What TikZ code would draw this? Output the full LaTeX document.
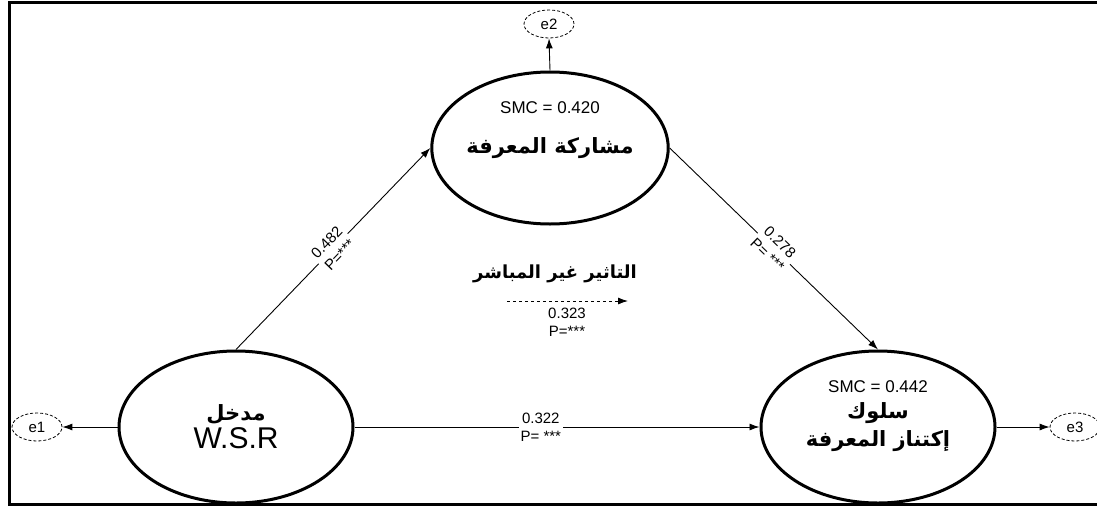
\documentclass[tikz,border=0pt]{standalone}
\usepackage{fontspec}
\setmainfont{Liberation Sans}
\newfontfamily\arabicfont[Script=Arabic]{DejaVu Sans}
\TeXXeTstate=1
\usetikzlibrary{positioning,arrows.meta,shapes.geometric}
\newcommand{\artxt}[1]{{\arabicfont\bfseries\beginR #1\endR}}

\begin{document}
\begin{tikzpicture}[
  x=1pt,y=-1pt,
  latent/.style={draw=black,ellipse,line width=3pt,minimum width=234pt,minimum height=152pt,inner sep=0pt,align=center,font=\fontsize{21}{28}\selectfont},
  errnode/.style={draw=black,ellipse,densely dashed,line width=0.8pt,minimum width=50pt,minimum height=28pt,inner sep=0pt,font=\fontsize{15}{17}\selectfont},
  smc/.style={font=\fontsize{17}{19}\selectfont},
  coef/.style={fill=white,align=center,inner sep=2pt,font=\fontsize{15}{18}\selectfont},
  arrow/.style={-{Latex[length=10pt,width=7pt]},line width=0.9pt}
]
\useasboundingbox (0,0) rectangle (1097,506);
\draw[line width=3.5pt] (1110,2.5) -- (9.5,2.5) -- (9.5,504.5) -- (1110,504.5);
\node[latent] (share) at (550,148) {\artxt{مشاركة المعرفة}};
\node[latent] (wsr) at (236,427) {\artxt{مدخل}\\{\fontsize{30}{32}\selectfont W.S.R}};
\node[latent] (hoard) at (878,427) {\artxt{سلوك}\\\artxt{إكتناز المعرفة}};
\node[smc] (smcshare) at (550,108) {SMC = 0.420};
\node[smc] (smchoard) at (878,387) {SMC = 0.442};
\node[errnode] (e2) at (549,24) {e2};
\node[errnode] (e1) at (37,427) {e1};
\node[errnode] (e3) at (1075,427) {e3};
\draw[arrow] (share.north) -- (e2.south);
\draw[arrow] (wsr.west) -- (e1.east);
\draw[arrow] (hoard.east) -- (e3.west);
\draw[arrow] (wsr.north) -- node[coef,sloped] (c1) {0.482\\P=***} (share.west);
\draw[arrow] (share.east) -- node[coef,sloped] (c2) {0.278\\P= ***} (hoard.north);
\draw[arrow] (wsr.east) -- node[coef,pos=0.46] (c3) {0.322\\P= ***} (hoard.west);
% indirect effect
\node[font=\fontsize{18}{22}\selectfont] (indirect) at (555,274) {\artxt{التاثير غير المباشر}};
\coordinate (dstart) at (507,301);
\coordinate (dend) at (628,301);
\draw[arrow,dashed] (dstart) -- (dend);
\node[coef] (c4) at (567,322) {0.323\\P=***};
\end{tikzpicture}
\end{document}
